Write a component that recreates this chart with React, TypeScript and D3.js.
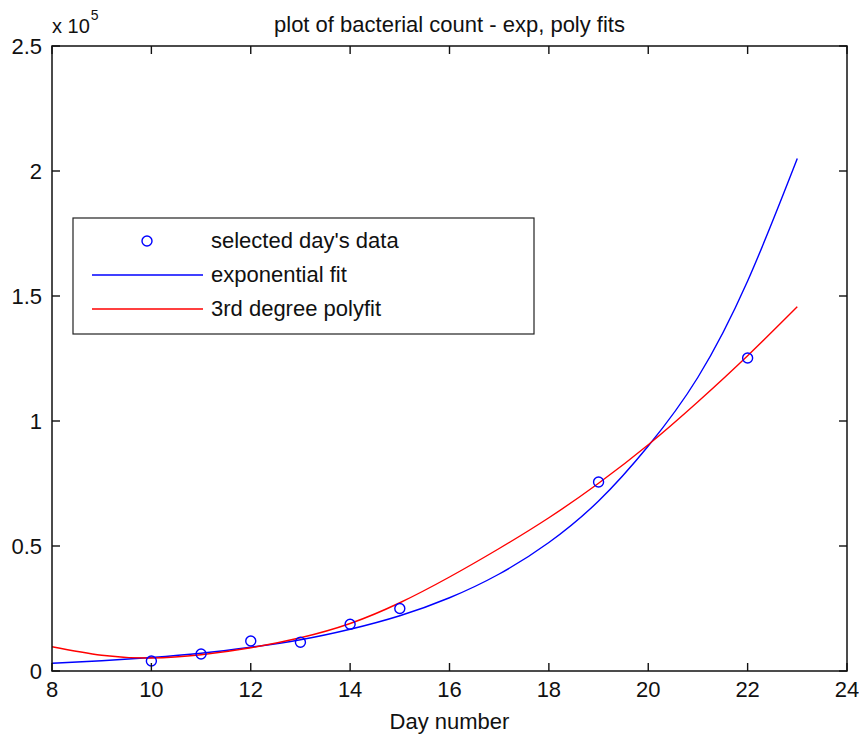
import React from 'react'
import * as d3 from 'd3'

// selected days (measured counts)
const days = [10, 11, 12, 13, 14, 15, 19, 22]
const counts = [4000, 6800, 12000, 11500, 18700, 25000, 75600, 125200]

// fitted curves at each day
const fitDays = [8, 9, 10, 11, 12, 13, 14, 15, 16, 17, 18, 19, 20, 21, 22, 23]
const expFit = [3100, 4100, 5400, 7100, 9500, 12500, 16700, 22100, 29300, 38800, 51400, 68000, 90000, 117500, 156000, 205000]
const polyFit = [9700, 6300, 5200, 6500, 9300, 13300, 19000, 27300, 37600, 49000, 61300, 75100, 90500, 107700, 126100, 145700]

const xTicks = [8, 10, 12, 14, 16, 18, 20, 22, 24]
const yTicks = [0, 50000, 100000, 150000, 200000, 250000]
const yTickLabels = ['0', '0.5', '1', '1.5', '2', '2.5']

const legendItems = ["selected day's data", 'exponential fit', '3rd degree polyfit']

const W = 859
const H = 736
const m = { left: 52, right: 12, top: 46, bottom: 65 }
const font = '"Liberation Sans", Arial, sans-serif'
const ink = '#111'

export default function App() {
  const x = d3.scaleLinear().domain([8, 24]).range([m.left, W - m.right])
  const y = d3.scaleLinear().domain([0, 250000]).range([H - m.bottom, m.top])
  const [x0, x1] = x.range()
  const [y0, y1] = y.range()

  const line = d3
    .line<number>()
    .x((_, i) => x(fitDays[i]))
    .y((d) => y(d))
    .curve(d3.curveNatural)

  const tickLen = 8

  return (
    <svg
      width={W}
      height={H}
      style={{ position: 'absolute', left: 0, top: 0, background: '#fff' }}
      fontFamily={font}
    >
      <rect x={0} y={0} width={W} height={H} fill="#fff" />

      {/* fits */}
      <path d={line(expFit) || ''} fill="none" stroke="#0000ff" strokeWidth={1.4} />
      <path d={line(polyFit) || ''} fill="none" stroke="#ff0000" strokeWidth={1.4} />

      {/* data points */}
      {days.map((d, i) => (
        <circle key={d} cx={x(d)} cy={y(counts[i])} r={5} fill="none" stroke="#0000ff" strokeWidth={1.4} />
      ))}

      {/* axes box */}
      <rect x={x0} y={y1} width={x1 - x0} height={y0 - y1} fill="none" stroke={ink} strokeWidth={1.5} />

      {xTicks.map((t) => (
        <g key={'x' + t}>
          <line x1={x(t)} x2={x(t)} y1={y0} y2={y0 - tickLen} stroke={ink} strokeWidth={1.4} />
          <line x1={x(t)} x2={x(t)} y1={y1} y2={y1 + tickLen} stroke={ink} strokeWidth={1.4} />
          <text x={x(t)} y={y0 + 26} fontSize={22} textAnchor="middle" fill={ink}>
            {t}
          </text>
        </g>
      ))}

      {yTicks.map((t, i) => (
        <g key={'y' + t}>
          <line x1={x0} x2={x0 + tickLen} y1={y(t)} y2={y(t)} stroke={ink} strokeWidth={1.4} />
          <line x1={x1} x2={x1 - tickLen} y1={y(t)} y2={y(t)} stroke={ink} strokeWidth={1.4} />
          <text x={42} y={y(t) + 8} fontSize={22} textAnchor="end" fill={ink}>
            {yTickLabels[i]}
          </text>
        </g>
      ))}

      {/* exponent label */}
      <text x={x0} y={33} fontSize={20} fill={ink}>
        x 10
        <tspan dx={1} dy={-13} fontSize={14}>
          5
        </tspan>
      </text>

      <text x={(x0 + x1) / 2} y={32} fontSize={22} textAnchor="middle" fill={ink}>
        plot of bacterial count - exp, poly fits
      </text>
      <text x={(x0 + x1) / 2} y={729} fontSize={22} textAnchor="middle" fill={ink}>
        Day number
      </text>

      {/* legend */}
      <g>
        <rect x={73} y={218} width={461} height={116} fill="#fff" stroke="#222" strokeWidth={1.2} />
        <circle cx={147} cy={241} r={5} fill="none" stroke="#0000ff" strokeWidth={1.4} />
        <line x1={92} x2={203} y1={275} y2={275} stroke="#0000ff" strokeWidth={1.4} />
        <line x1={92} x2={203} y1={309} y2={309} stroke="#ff0000" strokeWidth={1.4} />
        {legendItems.map((s, i) => (
          <text key={s} x={211} y={248 + i * 34} fontSize={22} fill={ink}>
            {s}
          </text>
        ))}
      </g>
    </svg>
  )
}
